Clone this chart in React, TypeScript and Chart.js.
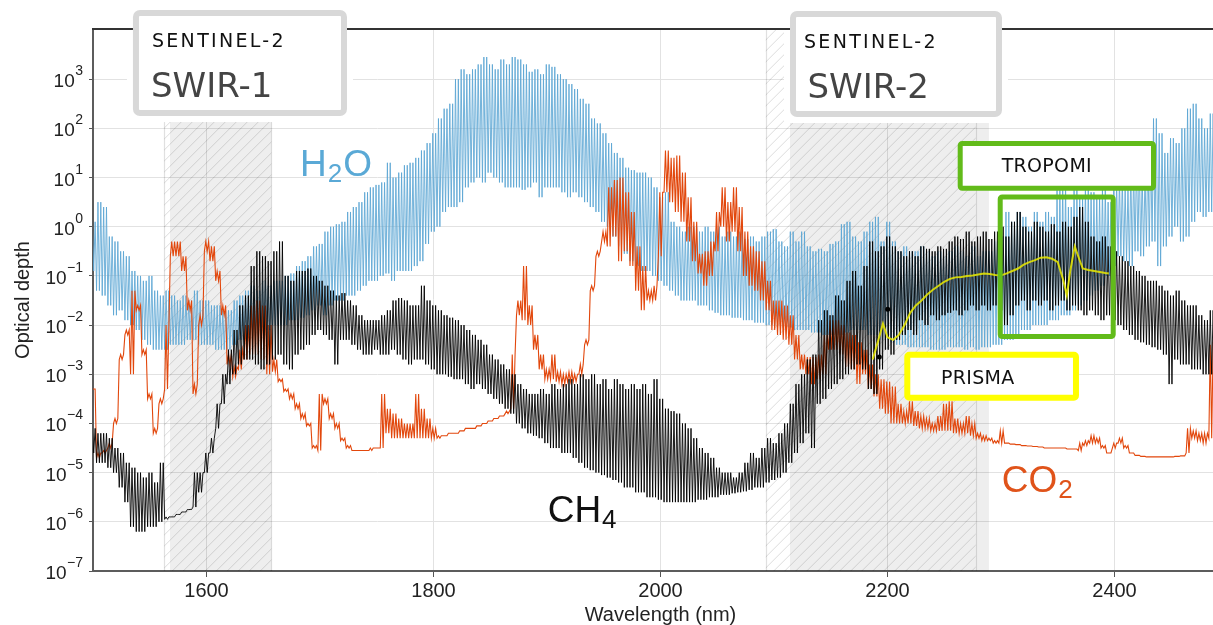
import React, { useEffect, useRef } from "react";
import { Chart, registerables } from "chart.js";

Chart.register(...registerables);

// ---------------- data ----------------
// Spectra are sampled every 5 nm from 1500 nm to 2490 nm.
// For each sample: log10 of the optical depth at the line peaks and between the lines.
const GRID_START_NM = 1500;
const GRID_STEP_NM = 5;

const h2oPeakLog10 = [
  0.1, 0.5, 0.4, -0.2, -0.3, -0.5, -0.6, -0.9, -1.0, -1.1, // 1500
  -1.0, -1.3, -1.4, -1.3, -1.4, -1.5, -1.4, -1.5, -1.3, -1.5, // 1550
  -1.5, -1.6, -1.6, -1.7, -1.7, -1.5, -1.4, -1.3, -1.2, -1.3, // 1600
  -1.1, -1.2, -1.1, -1.1, -1.0, -0.95, -0.8, -0.7, -0.6, -0.4, // 1650
  -0.35, -0.1, 0.0, 0.05, 0.1, 0.3, 0.4, 0.5, 0.7, 0.8, // 1700
  0.85, 0.9, 1.3, 1.0, 1.1, 1.25, 1.3, 1.4, 1.55, 1.7, // 1750
  1.9, 2.2, 2.4, 2.5, 3.0, 3.2, 3.1, 3.2, 3.3, 3.45, // 1800
  3.3, 3.2, 3.4, 3.3, 3.45, 3.4, 3.3, 3.15, 3.2, 3.1, // 1850
  3.3, 3.25, 3.1, 3.0, 2.9, 2.8, 2.6, 2.5, 2.2, 2.1, // 1900
  1.9, 1.7, 1.5, 1.4, 1.2, 1.15, 1.1, 1.1, 1.0, 0.8, // 1950
  0.6, 0.7, 0.1, 0.0, -0.1, 0.0, 0.0, -0.1, 0.0, -0.1, // 2000
  0.0, -0.2, -0.1, -0.2, -0.1, -0.25, -0.2, -0.3, -0.2, -0.1, // 2050
  -0.05, -0.3, -0.4, -0.1, -0.3, -0.1, -0.4, -0.5, -0.45, -0.5, // 2100
  -0.35, -0.3, 0.05, 0.1, -0.2, -0.3, -0.1, 0.1, 0.2, -0.3, // 2150
  0.1, -0.3, -0.5, -0.4, -0.5, -0.5, -0.4, -0.5, -0.6, -0.5, // 2200
  -0.6, -0.5, -0.4, -0.5, -0.6, -0.4, -0.6, -0.5, -0.5, -0.3, // 2250
  -0.2, 0.3, 0.1, 0.3, 0.2, 0.0, 0.3, 0.1, 0.3, 0.2, // 2300
  0.8, 0.9, 0.4, 0.8, 0.6, 0.9, 0.7, 0.6, 0.8, 0.5, // 2350
  0.9, 1.0, 0.8, 1.2, 1.4, 1.1, 1.6, 2.2, 1.9, 1.5, // 2400
  1.8, 1.7, 2.0, 2.4, 2.5, 2.2, 2.0, 2.3, 2.2, // 2450
];
const h2oTroughLog10 = [
  -0.9, -1.3, -1.4, -1.6, -1.8, -1.7, -1.9, -2.0, -2.1, -2.3, // 1500
  -2.4, -2.5, -2.5, -2.5, -2.4, -2.4, -2.4, -2.3, -2.3, -2.4, // 1550
  -2.4, -2.4, -2.5, -2.5, -2.5, -2.4, -2.3, -2.3, -2.2, -2.2, // 1600
  -2.2, -2.1, -2.0, -2.0, -2.0, -1.9, -1.9, -1.85, -1.8, -1.7, // 1650
  -1.6, -1.8, -1.6, -1.5, -1.5, -1.4, -1.4, -1.3, -1.2, -1.1, // 1700
  -1.1, -1.0, -0.95, -1.1, -0.9, -0.9, -0.9, -0.8, -0.7, -0.35, // 1750
  -0.1, 0.0, 0.3, 0.4, 0.4, 0.5, 0.8, 0.9, 1.0, 0.9, // 1800
  1.1, 1.0, 0.9, 0.8, 0.8, 0.8, 0.75, 0.8, 0.9, 0.6, // 1850
  0.8, 0.8, 0.8, 0.7, 0.6, 0.7, 0.6, 0.5, 0.4, 0.3, // 1900
  0.1, 0.0, -0.2, -0.4, -0.55, -0.7, -0.8, -0.9, -0.9, -1.0, // 1950
  -1.1, -1.2, -1.3, -1.4, -1.5, -1.5, -1.5, -1.6, -1.6, -1.7, // 2000
  -1.75, -1.8, -1.8, -1.85, -1.85, -1.9, -1.9, -1.95, -1.95, -2.0, // 2050
  -2.0, -2.0, -2.05, -2.05, -2.1, -2.1, -2.1, -2.15, -2.15, -2.2, // 2100
  -2.2, -2.2, -2.2, -2.15, -2.1, -2.1, -2.1, -2.2, -2.2, -2.3, // 2150
  -2.3, -2.35, -2.4, -2.4, -2.45, -2.45, -2.45, -2.45, -2.5, -2.5, // 2200
  -2.5, -2.45, -2.45, -2.45, -2.5, -2.45, -2.5, -2.45, -2.45, -2.4, // 2250
  -2.4, -2.3, -2.3, -2.2, -2.1, -2.1, -2.0, -2.0, -2.0, -1.9, // 2300
  -1.9, -1.8, -1.8, -1.7, -1.6, -1.5, -1.4, -1.3, -1.2, -1.0, // 2350
  -0.8, -0.6, -0.7, -0.8, -0.5, -0.6, -0.4, -0.3, -0.8, -0.4, // 2400
  -0.2, 0.0, -0.3, -0.2, 0.1, 0.3, 0.2, 0.3, 0.3, // 2450
];

const co2PeakLog10 = [
  -3.3, -4.6, -4.55, -4.4, -3.9, -2.6, -2.1, -1.3, -1.6, -2.5, // 1500
  -3.4, -4.1, -3.5, -2.0, -0.3, -0.3, -0.6, -1.5, -3.2, -1.8, // 1550
  -0.3, -0.4, -0.9, -1.6, -2.6, -2.85, -2.5, -2.0, -1.6, -1.5, // 1600
  -1.6, -2.0, -2.7, -3.1, -3.3, -3.4, -3.6, -3.8, -4.0, -4.45, // 1650
  -3.4, -3.5, -3.8, -4.0, -4.3, -4.45, -4.55, -4.55, -4.55, -4.5, // 1700
  -4.5, -3.4, -3.7, -3.8, -3.9, -4.0, -4.0, -3.4, -3.7, -3.9, // 1750
  -4.1, -4.25, -4.25, -4.2, -4.2, -4.15, -4.1, -4.1, -4.05, -4.0, // 1800
  -3.95, -3.9, -3.85, -3.75, -2.6, -1.5, -0.8, -1.6, -2.2, -2.6, // 1850
  -2.9, -2.6, -2.95, -3.0, -2.95, -3.0, -2.8, -2.3, -1.2, -0.5, // 1900
  -0.1, 0.8, 0.95, 1.0, 0.7, 0.3, -0.4, -0.8, -1.3, -1.2, // 1950
  0.7, 1.55, 1.4, 1.45, 1.1, 0.6, 0.1, -0.55, -0.5, -0.3, // 2000
  0.3, 0.8, 0.5, 0.8, 0.4, -0.1, -0.4, -0.5, -0.7, -1.1, // 2050
  -1.5, -1.5, -1.6, -1.8, -2.2, -2.6, -2.65, -2.65, -2.6, -2.2, // 2100
  -1.9, -1.9, -2.0, -2.15, -2.2, -2.35, -2.5, -2.8, -3.0, -3.1, // 2150
  -3.15, -3.25, -3.6, -3.75, -3.55, -3.75, -3.85, -3.9, -4.0, -3.85, // 2200
  -3.6, -3.55, -3.9, -4.0, -3.85, -4.0, -4.2, -4.25, -4.3, -4.35, // 2250
  -4.15, -4.4, -4.42, -4.43, -4.45, -4.46, -4.47, -4.48, -4.5, -4.5, // 2300
  -4.5, -4.5, -4.52, -4.52, -4.4, -4.35, -4.25, -4.3, -4.45, -4.6, // 2350
  -4.4, -4.3, -4.45, -4.6, -4.65, -4.67, -4.68, -4.68, -4.68, -4.68, // 2400
  -4.68, -4.67, -4.66, -4.1, -4.15, -4.2, -4.2, -2.4, -2.4, // 2450
];
const co2TroughLog10 = [
  -3.3, -4.7, -4.6, -4.5, -4.0, -2.7, -2.2, -3.0, -1.7, -2.6, // 1500
  -3.5, -4.2, -3.6, -3.3, -0.6, -0.6, -0.9, -1.7, -3.4, -2.0, // 1550
  -0.5, -0.7, -1.1, -1.8, -2.8, -3.05, -2.9, -2.7, -2.6, -2.6, // 1600
  -2.7, -3.0, -2.95, -3.15, -3.35, -3.5, -3.7, -3.9, -4.05, -4.5, // 1650
  -4.55, -3.6, -3.9, -4.1, -4.35, -4.5, -4.55, -4.55, -4.55, -4.55, // 1700
  -4.5, -4.5, -4.2, -4.3, -4.3, -4.3, -4.3, -4.3, -4.3, -4.3, // 1750
  -4.3, -4.3, -4.25, -4.2, -4.2, -4.15, -4.1, -4.1, -4.05, -4.0, // 1800
  -3.95, -3.9, -3.85, -3.8, -3.7, -1.8, -1.9, -2.0, -2.5, -2.9, // 1850
  -3.1, -3.1, -3.15, -3.2, -3.15, -3.15, -3.0, -2.4, -1.3, -0.6, // 1900
  -0.3, -0.4, -0.2, -0.7, -0.5, -0.8, -1.3, -1.7, -1.5, -1.5, // 1950
  -0.6, 0.7, 0.5, 0.3, 0.1, -0.3, -0.7, -0.95, -1.2, -1.0, // 2000
  -0.5, 0.0, -0.3, -0.1, -0.5, -1.0, -1.2, -1.3, -1.5, -1.7, // 2050
  -2.1, -2.2, -2.3, -2.4, -2.7, -2.9, -3.0, -3.2, -3.1, -3.0, // 2100
  -2.5, -2.5, -2.6, -2.85, -2.9, -3.2, -3.0, -3.3, -3.45, -3.7, // 2150
  -3.8, -4.0, -4.0, -4.0, -4.0, -4.05, -4.1, -4.1, -4.15, -4.15, // 2200
  -4.15, -4.15, -4.2, -4.2, -4.2, -4.25, -4.3, -4.35, -4.35, -4.4, // 2250
  -4.4, -4.4, -4.42, -4.43, -4.45, -4.46, -4.47, -4.48, -4.5, -4.5, // 2300
  -4.5, -4.5, -4.52, -4.52, -4.55, -4.45, -4.4, -4.4, -4.5, -4.6, // 2350
  -4.5, -4.4, -4.5, -4.6, -4.65, -4.67, -4.68, -4.68, -4.68, -4.68, // 2400
  -4.68, -4.67, -4.66, -4.6, -4.3, -4.35, -4.4, -4.3, -2.5, // 2450
];

const ch4PeakLog10 = [
  -4.1, -4.2, -4.2, -4.3, -4.5, -4.6, -4.8, -4.9, -5.0, -5.1, // 1500
  -5.0, -5.2, -4.8, -5.9, -5.9, -5.85, -5.8, -5.75, -5.0, -5.0, // 1550
  -4.6, -4.3, -3.6, -3.0, -2.5, -2.1, -1.6, -1.4, -0.8, -0.5, // 1600
  -0.6, -0.7, -0.5, -0.3, -1.0, -1.1, -0.9, -0.9, -0.85, -1.0, // 1650
  -1.1, -1.2, -1.3, -1.4, -1.35, -1.5, -1.6, -1.8, -1.9, -1.9, // 1700
  -1.9, -1.8, -1.7, -1.5, -1.45, -1.5, -1.6, -1.6, -1.2, -1.5, // 1750
  -1.6, -1.7, -1.8, -1.85, -1.9, -2.0, -2.1, -2.2, -2.3, -2.4, // 1800
  -2.6, -2.7, -2.8, -2.9, -3.0, -3.2, -3.3, -3.4, -3.4, -3.3, // 1850
  -3.4, -3.2, -3.3, -3.2, -3.1, -3.2, -3.0, -3.1, -3.0, -3.2, // 1900
  -3.1, -3.3, -3.1, -3.2, -3.3, -3.2, -3.3, -3.2, -3.4, -3.1, // 1950
  -3.5, -3.7, -3.75, -3.8, -4.0, -4.1, -4.3, -4.5, -4.6, -4.7, // 2000
  -4.9, -5.0, -5.0, -5.1, -5.0, -4.8, -4.6, -4.7, -4.5, -4.3, // 2050
  -4.4, -4.2, -4.0, -3.6, -3.2, -3.0, -2.7, -2.6, -1.9, -1.7, // 2100
  -1.8, -1.4, -1.5, -1.1, -0.9, -1.2, -0.8, -0.3, -0.5, -0.4, // 2150
  -0.2, -0.4, -0.5, -0.6, -0.5, -0.6, -0.4, -0.45, -0.5, -0.4, // 2200
  -0.45, -0.3, -0.2, -0.25, -0.1, -0.3, -0.2, -0.1, -0.25, -0.1, // 2250
  0.0, -0.2, 0.1, 0.3, 0.0, -0.1, 0.1, 0.0, -0.1, 0.05, // 2300
  -0.1, 0.1, 0.0, 0.2, 0.4, 0.1, -0.2, -0.3, -0.2, -0.4, // 2350
  -0.5, -0.6, -0.7, -0.8, -0.9, -1.0, -1.1, -1.1, -1.2, -1.3, // 2400
  -1.4, -1.3, -1.5, -1.6, -1.6, -1.8, -1.9, -1.7, -2.0, // 2450
];
const ch4TroughLog10 = [
  -4.6, -4.8, -4.8, -4.9, -5.0, -5.3, -5.6, -6.1, -6.2, -6.2, // 1500
  -6.1, -6.1, -6.0, -5.95, -5.9, -5.85, -5.8, -5.75, -5.7, -5.4, // 1550
  -5.0, -4.6, -4.1, -3.6, -3.2, -3.0, -2.8, -2.7, -2.7, -2.8, // 1600
  -2.9, -2.8, -2.7, -2.6, -2.8, -2.9, -2.6, -2.5, -2.4, -2.2, // 1650
  -2.1, -2.2, -2.3, -2.8, -2.3, -2.3, -2.4, -2.5, -2.6, -2.6, // 1700
  -2.5, -2.6, -2.6, -2.5, -2.6, -2.7, -2.8, -2.7, -2.7, -2.8, // 1750
  -2.9, -3.0, -3.0, -3.05, -3.1, -3.1, -3.2, -3.3, -3.2, -3.3, // 1800
  -3.4, -3.5, -3.6, -3.7, -3.8, -4.0, -4.1, -4.2, -4.25, -4.3, // 1850
  -4.4, -4.5, -4.5, -4.6, -4.6, -4.7, -4.8, -4.9, -4.95, -5.0, // 1900
  -5.05, -5.1, -5.15, -5.2, -5.3, -5.3, -5.4, -5.4, -5.5, -5.5, // 1950
  -5.55, -5.6, -5.6, -5.6, -5.6, -5.6, -5.6, -5.55, -5.55, -5.5, // 2000
  -5.5, -5.45, -5.45, -5.42, -5.4, -5.38, -5.35, -5.3, -5.3, -5.2, // 2050
  -5.15, -5.1, -5.0, -4.8, -4.6, -4.4, -4.2, -4.5, -3.6, -3.5, // 2100
  -3.3, -3.2, -3.1, -3.0, -2.9, -2.8, -2.9, -3.3, -3.4, -2.9, // 2150
  -2.5, -2.6, -2.3, -2.2, -2.1, -2.2, -1.9, -2.0, -1.8, -1.9, // 2200
  -1.8, -1.75, -1.7, -1.8, -1.7, -1.6, -1.7, -1.6, -1.7, -1.6, // 2250
  -1.7, -2.0, -1.8, -1.6, -1.5, -1.7, -1.5, -1.6, -1.5, -1.7, // 2300
  -1.6, -1.5, -1.7, -1.6, -1.7, -1.8, -1.7, -1.8, -1.9, -1.8, // 2350
  -1.9, -2.0, -2.1, -2.2, -2.3, -2.35, -2.4, -2.45, -2.5, -2.6, // 2400
  -3.2, -2.7, -2.8, -2.8, -2.9, -2.9, -3.0, -3.0, -3.0, // 2450
];

// PRISMA retrieved methane trace (log10 optical depth)
const prismaWavelengths = [
  2187, 2192, 2196, 2200, 2205, 2210, 2215, 2220, 2225, 2230, 2235, 2240, 2245, 2250,
  2255, 2260, 2265, 2270, 2275, 2280, 2285, 2290, 2295, 2300, 2305, 2310, 2315, 2320,
  2325, 2330, 2335, 2340, 2345, 2350, 2355, 2358, 2361, 2365, 2368, 2372, 2377, 2382,
  2387, 2392, 2395,
];
const prismaLog10 = [
  -2.7, -2.3, -1.97, -2.25, -2.3, -2.2, -2.0, -1.75, -1.6, -1.5, -1.38, -1.28, -1.2, -1.12,
  -1.06, -1.03, -1.02, -1.0, -0.99, -0.97, -0.95, -0.96, -0.98, -0.99, -0.95, -0.9, -0.85, -0.77,
  -0.72, -0.68, -0.63, -0.62, -0.65, -0.72, -1.1, -1.4, -0.9, -0.4, -0.6, -0.85, -0.88, -0.9,
  -0.92, -0.94, -0.95,
];
const prismaMarkerWavelengths = [2192.8, 2200.2];
const prismaMarkerLog10 = [-2.65, -1.68];

const xTickValues = [1600, 1800, 2000, 2200, 2400];
const yTickExponents = [-7, -6, -5, -4, -3, -2, -1, 0, 1, 2, 3];

// ---------------- presentation config ----------------
const FONT_AXIS = '"Liberation Sans", Arial, Helvetica, sans-serif';
const FONT_BOX = '"DejaVu Sans", Verdana, sans-serif';
const COLOR_H2O = "#5ba5d3";
const COLOR_CO2 = "#e2470c";
const COLOR_CH4 = "#000000";
const COLOR_PRISMA = "rgba(236,236,0,0.85)";
const COLOR_TEXT = "#222222";

// how each 5 nm sample is drawn: trough/peak pairs at these offsets (nm)
const LINE_OFFSETS = [-1.875, -0.625, 0.625, 1.875];

// Sentinel-2 SWIR bands (nm): hatched extent and grey filled extent
const sentinelBands = [
  { hatchFrom: 1562.8, hatchTo: 1657.2, fillFrom: 1567.8, fillTo: 1657.2 },
  { hatchFrom: 2092.7, hatchTo: 2277.7, fillFrom: 2114.1, fillTo: 2289.4 },
];

// Annotation boxes in data units (nm, log10 optical depth) of their outer edges
const annotationBoxes = [
  {
    x1: 1535.2, x2: 1723.8, top: 4.406, bottom: 2.251, stroke: "#d8d8d8", lineWidth: 6,
    fill: "#ffffff", margin: 6, radius: 4,
    texts: [
      { text: "SENTINEL-2", dx: 19, dy: 37, size: 19, color: "#111111", spacing: 2.3 },
      { text: "SWIR-1", dx: 18, dy: 87, size: 34, color: "#444444", spacing: 0 },
    ],
  },
  {
    x1: 2114.1, x2: 2300.9, top: 4.386, bottom: 2.231, stroke: "#d8d8d8", lineWidth: 6,
    fill: "#ffffff", margin: 6, radius: 4,
    texts: [
      { text: "SENTINEL-2", dx: 14, dy: 37, size: 19, color: "#111111", spacing: 2.3 },
      { text: "SWIR-2", dx: 17.5, dy: 86.7, size: 34, color: "#444444", spacing: 0 },
    ],
  },
  {
    x1: 2261.85, x2: 2436.56, top: 1.743, bottom: 0.729, stroke: "#62bb1a", lineWidth: 5,
    fill: "#ffffff", margin: 0, radius: 2,
    texts: [{ text: "TROPOMI", dx: 44, dy: 30.7, size: 19, color: "#111111", spacing: 0.3 }],
  },
  {
    x1: 2297.1, x2: 2401.06, top: 0.656, bottom: -2.283, stroke: "#62bb1a", lineWidth: 5,
    fill: null, margin: 0, radius: 2, texts: [],
  },
  {
    x1: 2214.8, x2: 2368.7, top: -2.542, bottom: -3.538, stroke: "#ffff00", lineWidth: 6,
    fill: "#ffffff", margin: 0, radius: 2,
    texts: [{ text: "PRISMA", dx: 36.7, dy: 32.6, size: 19, color: "#111111", spacing: 0.3 }],
  },
];

// Gas labels: anchor = left end of text baseline (nm, log10)
const gasLabels = [
  { main: "H", sub: "2", tail: "O", x: 1682.4, y: 1.037, color: "#5aa9d6" },
  { main: "CH", sub: "4", tail: "", x: 1900.6, y: -5.998, color: "#111111" },
  { main: "CO", sub: "2", tail: "", x: 2300.6, y: -5.388, color: "#e0531a" },
];

// ---------------- helpers ----------------
const gridWavelengths = h2oPeakLog10.map((_, i) => GRID_START_NM + i * GRID_STEP_NM);

function spectrumPoints(troughs: number[], peaks: number[]) {
  const pts: { x: number; y: number }[] = [];
  troughs.forEach((lo, i) => {
    const wl = gridWavelengths[i];
    LINE_OFFSETS.forEach((off, k) => {
      pts.push({ x: wl + off, y: Math.pow(10, k % 2 === 0 ? lo : peaks[i]) });
    });
  });
  return pts;
}

const bandsPlugin = {
  id: "sentinelBands",
  beforeDatasetsDraw(chart: any) {
    const { ctx, chartArea } = chart;
    const xs = chart.scales.x;
    const top = chartArea.top;
    const bottom = chartArea.bottom;
    const h = bottom - top;
    ctx.save();
    ctx.beginPath();
    ctx.rect(chartArea.left, top, chartArea.right - chartArea.left, h);
    ctx.clip();
    sentinelBands.forEach((b) => {
      const fx1 = xs.getPixelForValue(b.fillFrom);
      const fx2 = xs.getPixelForValue(b.fillTo);
      ctx.fillStyle = "rgba(0,0,0,0.065)";
      ctx.fillRect(fx1, top, fx2 - fx1, h);
      const hx1 = xs.getPixelForValue(b.hatchFrom);
      const hx2 = xs.getPixelForValue(b.hatchTo);
      ctx.save();
      ctx.beginPath();
      ctx.rect(hx1, top, hx2 - hx1, h);
      ctx.clip();
      ctx.strokeStyle = "rgba(0,0,0,0.14)";
      ctx.lineWidth = 1;
      ctx.beginPath();
      for (let k = hx1 - h; k < hx2 + 12; k += 11) {
        ctx.moveTo(k, bottom);
        ctx.lineTo(k + h, top);
      }
      ctx.stroke();
      ctx.restore();
      ctx.strokeStyle = "rgba(0,0,0,0.12)";
      ctx.lineWidth = 1.2;
      ctx.beginPath();
      ctx.moveTo(Math.round(hx1) + 0.5, top);
      ctx.lineTo(Math.round(hx1) + 0.5, bottom);
      ctx.moveTo(Math.round(hx2) + 0.5, top);
      ctx.lineTo(Math.round(hx2) + 0.5, bottom);
      ctx.stroke();
    });
    ctx.restore();
  },
};

const overlayPlugin = {
  id: "overlays",
  afterDraw(chart: any) {
    const { ctx, chartArea } = chart;
    const xs = chart.scales.x;
    const ys = chart.scales.y;
    const px = (nm: number) => xs.getPixelForValue(nm);
    const py = (lg: number) => ys.getPixelForValue(Math.pow(10, lg));

    ctx.save();

    // y tick labels 10^n
    const rightEdge = ys.right - 10;
    ctx.fillStyle = COLOR_TEXT;
    ctx.textAlign = "right";
    ctx.textBaseline = "alphabetic";
    yTickExponents.forEach((e) => {
      const y = ys.getPixelForValue(Math.pow(10, e));
      const expText = e < 0 ? "\u2212" + Math.abs(e) : String(e);
      ctx.font = `14px ${FONT_AXIS}`;
      const w = ctx.measureText(expText).width;
      ctx.fillText(expText, rightEdge, y - 4);
      ctx.font = `19px ${FONT_AXIS}`;
      ctx.fillText("10", rightEdge - w - 0.5, y + 8);
    });

    // white margins around the Sentinel boxes
    annotationBoxes.forEach((b) => {
      if (b.margin > 0) {
        const x1 = px(b.x1);
        const x2 = px(b.x2);
        const y1 = py(b.top);
        const y2 = py(b.bottom);
        ctx.fillStyle = "#ffffff";
        ctx.fillRect(x1 - b.margin, y1 - b.margin, x2 - x1 + 2 * b.margin, y2 - y1 + 2 * b.margin);
      }
    });

    // top frame line
    ctx.strokeStyle = "#333333";
    ctx.lineWidth = 2;
    ctx.beginPath();
    ctx.moveTo(chartArea.left - 1, chartArea.top);
    ctx.lineTo(chartArea.right, chartArea.top);
    ctx.stroke();

    // annotation boxes
    annotationBoxes.forEach((b) => {
      const x1 = px(b.x1);
      const x2 = px(b.x2);
      const y1 = py(b.top);
      const y2 = py(b.bottom);
      const hw = b.lineWidth / 2;
      ctx.beginPath();
      ctx.roundRect(x1 + hw, y1 + hw, x2 - x1 - b.lineWidth, y2 - y1 - b.lineWidth, b.radius);
      if (b.fill) {
        ctx.fillStyle = b.fill;
        ctx.fill();
      }
      ctx.strokeStyle = b.stroke;
      ctx.lineWidth = b.lineWidth;
      ctx.stroke();
      b.texts.forEach((t) => {
        ctx.font = `${t.size}px ${FONT_BOX}`;
        (ctx as any).letterSpacing = `${t.spacing}px`;
        ctx.fillStyle = t.color;
        ctx.textAlign = "left";
        ctx.textBaseline = "alphabetic";
        ctx.fillText(t.text, x1 + t.dx, y1 + t.dy);
        (ctx as any).letterSpacing = "0px";
      });
    });

    // gas labels
    gasLabels.forEach((g) => {
      let x = px(g.x);
      const y = py(g.y);
      ctx.fillStyle = g.color;
      ctx.textAlign = "left";
      ctx.textBaseline = "alphabetic";
      ctx.font = `37px ${FONT_AXIS}`;
      ctx.fillText(g.main, x, y);
      x += ctx.measureText(g.main).width + 1;
      ctx.font = `26px ${FONT_AXIS}`;
      ctx.fillText(g.sub, x, y + 6);
      x += ctx.measureText(g.sub).width + 1;
      if (g.tail) {
        ctx.font = `37px ${FONT_AXIS}`;
        ctx.fillText(g.tail, x, y);
      }
    });
    ctx.restore();
  },
};

export default function App() {
  const canvasRef = useRef<HTMLCanvasElement | null>(null);

  useEffect(() => {
    if (!canvasRef.current) return;
    const datasets: any[] = [
      {
        label: "PRISMA",
        data: prismaWavelengths.map((x, i) => ({ x, y: Math.pow(10, prismaLog10[i]) })),
        borderColor: COLOR_PRISMA,
        borderWidth: 2,
        pointRadius: 0,
        order: 0,
      },
      {
        label: "PRISMA markers",
        data: prismaMarkerWavelengths.map((x, i) => ({ x, y: Math.pow(10, prismaMarkerLog10[i]) })),
        showLine: false,
        pointRadius: 2.5,
        pointBorderWidth: 0,
        pointBackgroundColor: "#000",
        pointBorderColor: "#000",
        order: 0,
      },
      {
        label: "CH4",
        data: spectrumPoints(ch4TroughLog10, ch4PeakLog10),
        borderColor: COLOR_CH4,
        borderWidth: 0.9,
        pointRadius: 0,
        order: 1,
      },
      {
        label: "CO2",
        data: spectrumPoints(co2TroughLog10, co2PeakLog10),
        borderColor: COLOR_CO2,
        borderWidth: 1.1,
        pointRadius: 0,
        order: 2,
      },
      {
        label: "H2O",
        data: spectrumPoints(h2oTroughLog10, h2oPeakLog10),
        borderColor: COLOR_H2O,
        borderWidth: 0.85,
        pointRadius: 0,
        order: 3,
      },
    ];

    const chart = new Chart(canvasRef.current, {
      type: "line",
      data: { datasets },
      plugins: [bandsPlugin, overlayPlugin],
      options: {
        animation: false,
        responsive: false,
        devicePixelRatio: 1,
        layout: { autoPadding: false, padding: { top: 29, left: 0, right: 0, bottom: 0 } },
        plugins: { legend: { display: false }, tooltip: { enabled: false } },
        elements: { line: { tension: 0 } },
        scales: {
          x: {
            type: "linear",
            min: 1500,
            max: 2500,
            afterFit: (s: any) => {
              s.height = 54;
            },
            afterBuildTicks: (s: any) => {
              s.ticks = xTickValues.map((v) => ({ value: v }));
            },
            ticks: {
              color: COLOR_TEXT,
              font: { family: FONT_AXIS, size: 20 },
              padding: 2,
              maxRotation: 0,
              autoSkip: false,
              callback: (v: any) => String(v),
            },
            grid: { color: "#e2e2e2", lineWidth: 1, tickLength: 6, tickColor: "#555555" },
            border: { color: "#5c5c5c", width: 2 },
            title: {
              display: true,
              text: "Wavelength (nm)",
              color: COLOR_TEXT,
              font: { family: FONT_AXIS, size: 20, lineHeight: 1 },
              padding: { top: 0, bottom: 0 },
            },
          },
          y: {
            type: "logarithmic",
            min: 1e-7,
            max: Math.pow(10, 4.02),
            afterFit: (s: any) => {
              s.width = 93;
            },
            afterBuildTicks: (s: any) => {
              s.ticks = yTickExponents.map((e) => ({ value: Math.pow(10, e) }));
            },
            ticks: { display: false },
            grid: { color: "#e2e2e2", lineWidth: 1, tickLength: 4, tickColor: "#555555" },
            border: { color: "#5c5c5c", width: 2 },
            title: {
              display: true,
              text: "Optical depth",
              color: COLOR_TEXT,
              font: { family: FONT_AXIS, size: 20 },
              padding: { top: 11, bottom: 0 },
            },
          },
        },
      } as any,
    });
    return () => chart.destroy();
  }, []);

  return (
    <div
      style={{
        position: "fixed",
        left: 0,
        top: 0,
        width: 1213,
        height: 625,
        overflow: "hidden",
        background: "#ffffff",
      }}
    >
      <canvas ref={canvasRef} width={1228} height={625} style={{ display: "block" }} />
    </div>
  );
}
